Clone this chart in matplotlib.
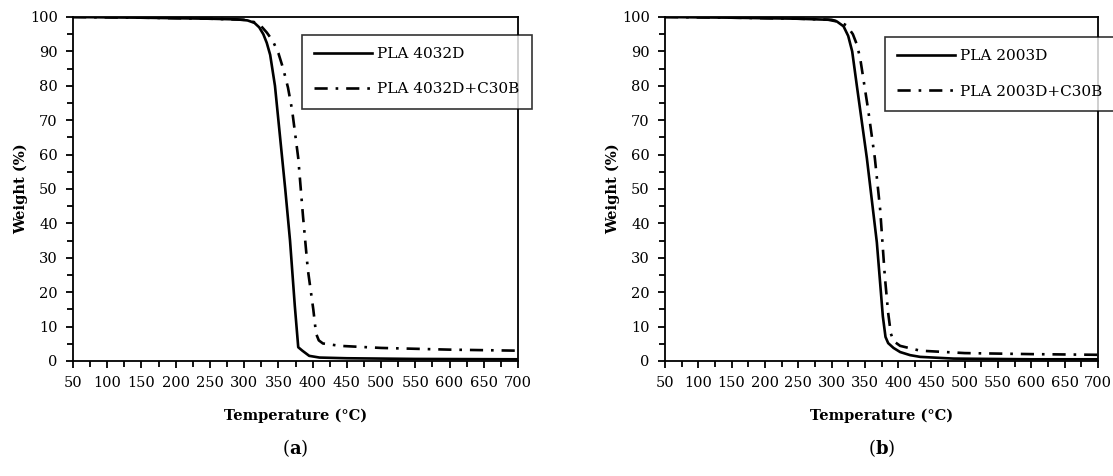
import numpy as np
import matplotlib.pyplot as plt
from matplotlib.ticker import MultipleLocator

plt.rcParams['font.family'] = 'DejaVu Serif'
plt.rcParams['mathtext.fontset'] = 'custom'
plt.rcParams['mathtext.rm'] = 'DejaVu Serif'
plt.rcParams['mathtext.bf'] = 'DejaVu Serif:bold'

# panel (a) - PLA 4032D
temp_a1 = [50, 150, 250, 290, 305, 315, 322, 328, 333, 338, 345, 352, 360, 367, 374, 379, 385, 395, 410, 450, 550, 700]
wt_a1 = [100, 99.8, 99.5, 99.3, 99, 98.3, 97, 95, 92.5, 89, 80, 66, 50, 35, 16, 4, 3, 1.5, 1.0, 0.8, 0.6, 0.5]
temp_a2 = [50, 150, 250, 300, 315, 325, 333, 342, 350, 357, 364, 370, 379, 386, 393, 401, 405, 409, 415, 440, 500, 600, 700]
wt_a2 = [100, 99.8, 99.5, 99.2, 98.5, 97.3, 95.5, 93, 89.5, 85, 79.5, 73, 59, 42, 26.6, 15, 8, 6, 5.1, 4.4, 3.8, 3.3, 3.0]

# panel (b) - PLA 2003D
temp_b1 = [50, 150, 250, 295, 308, 318, 325, 331, 338, 353, 368, 377, 381, 385, 393, 403, 418, 433, 483, 600, 700]
wt_b1 = [100, 99.8, 99.5, 99.2, 98.7, 97.3, 94.5, 90, 80, 59, 34.5, 13, 7, 5.2, 3.8, 2.6, 1.7, 1.2, 0.7, 0.5, 0.5]
temp_b2 = [50, 150, 250, 300, 313, 323, 332, 338, 343, 355, 365, 373, 380, 385, 389, 393, 403, 433, 500, 600, 700]
wt_b2 = [100, 99.8, 99.5, 99.2, 98.5, 97.5, 95, 92, 88, 73, 59, 44, 24.6, 14, 8, 5.8, 4.4, 3.0, 2.3, 2.0, 1.8]

labels_a = ['PLA 4032D', 'PLA 4032D+C30B']
labels_b = ['PLA 2003D', 'PLA 2003D+C30B']

fig = plt.figure(figsize=(11.13, 4.76), dpi=100)
W, H = 1113, 476
ax_a = fig.add_axes([73 / W, 1 - 361 / H, 445 / W, 344 / H])
ax_b = fig.add_axes([665 / W, 1 - 361 / H, 433 / W, 344 / H])

dashdot = (0, (5, 3, 1, 3))

panels = [
    (ax_a, temp_a1, wt_a1, temp_a2, wt_a2, labels_a, '($\\mathbf{a}$)', 0.515, 0.948),
    (ax_b, temp_b1, wt_b1, temp_b2, wt_b2, labels_b, '($\\mathbf{b}$)', 0.508, 0.942),
]

for ax, t1, w1, t2, w2, labs, tag, lx, ly in panels:
    ax.plot(t1, w1, color='black', lw=1.9, label=labs[0])
    ax.plot(t2, w2, color='black', lw=1.9, linestyle=dashdot, label=labs[1])
    ax.set_xlim(50, 700)
    ax.set_ylim(0, 100)
    ax.xaxis.set_major_locator(MultipleLocator(50))
    ax.xaxis.set_minor_locator(MultipleLocator(25))
    ax.yaxis.set_major_locator(MultipleLocator(10))
    ax.yaxis.set_minor_locator(MultipleLocator(5))
    ax.tick_params(which='both', direction='out', width=1.3, labelsize=10.5)
    ax.tick_params(which='major', length=5, pad=6)
    ax.tick_params(which='minor', length=4)
    for s in ax.spines.values():
        s.set_linewidth(1.3)
    ax.set_xlabel('Temperature (°C)', fontsize=10.5, fontweight='bold', labelpad=13)
    ax.set_ylabel('Weight (%)', fontsize=10.5, fontweight='bold', labelpad=1)
    leg = ax.legend(loc='upper left', bbox_to_anchor=(lx, ly), fontsize=11,
                    frameon=True, fancybox=False, edgecolor='black',
                    handlelength=3.8, labelspacing=1.4, borderpad=0.8,
                    handletextpad=0.3, borderaxespad=0)
    leg.get_frame().set_linewidth(1.2)
    leg.set_clip_on(False)
    ax.text(0.5, -0.22, tag, transform=ax.transAxes, ha='center', va='top', fontsize=13)

fig.savefig('out.png', dpi=100)
